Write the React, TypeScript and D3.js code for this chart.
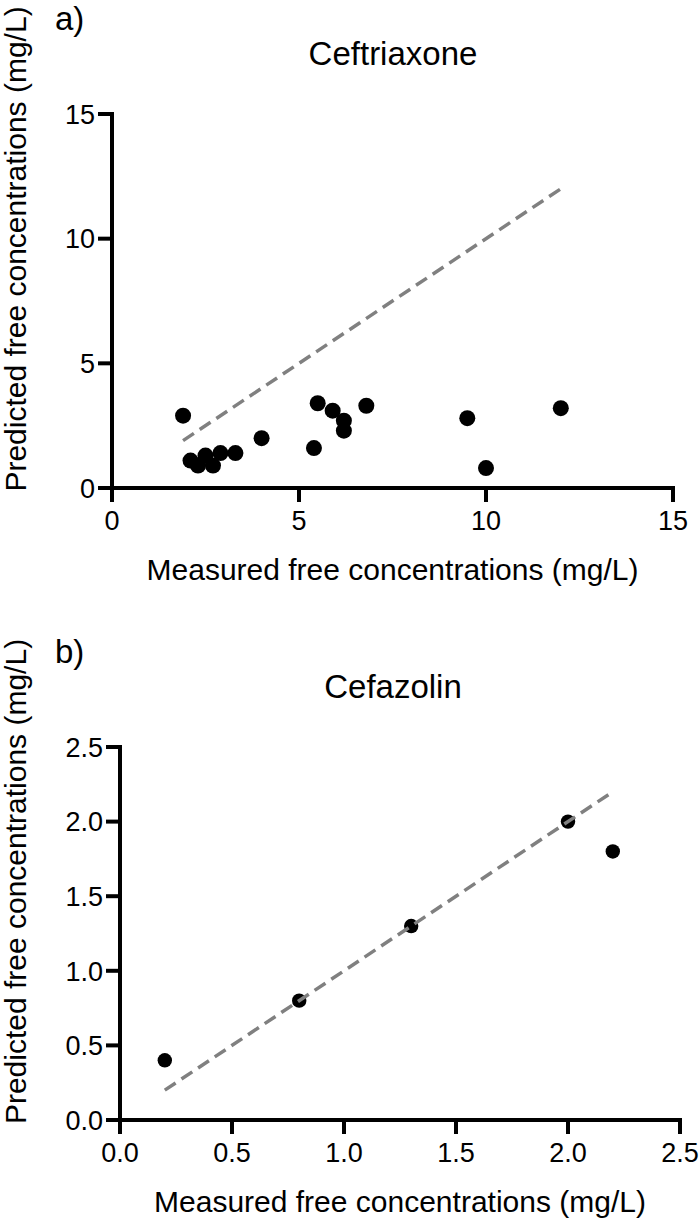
import React from "react";
import * as d3 from "d3";

// Panel a: Ceftriaxone
const ceftriaxoneMeasured = [1.9, 2.1, 2.3, 2.5, 2.7, 2.9, 3.3, 4.0, 5.4, 5.5, 5.9, 6.2, 6.2, 6.8, 9.5, 10.0, 12.0];
const ceftriaxonePredicted = [2.9, 1.1, 0.9, 1.3, 0.9, 1.4, 1.4, 2.0, 1.6, 3.4, 3.1, 2.7, 2.3, 3.3, 2.8, 0.8, 3.2];
const ceftriaxoneTicks = [0, 5, 10, 15];
const ceftriaxoneIdentity = [1.9, 12.0];

// Panel b: Cefazolin
const cefazolinMeasured = [0.2, 0.8, 1.3, 2.0, 2.2];
const cefazolinPredicted = [0.4, 0.8, 1.3, 2.0, 1.8];
const cefazolinTicks = [0, 0.5, 1.0, 1.5, 2.0, 2.5];
const cefazolinIdentity = [0.2, 2.2];

const xLabel = "Measured free concentrations (mg/L)";
const yLabel = "Predicted free concentrations (mg/L)";

const FONT = "'Liberation Sans', Arial, Helvetica, sans-serif";

type PanelProps = {
  letter: string;
  title: string;
  xs: number[];
  ys: number[];
  ticks: number[];
  identity: number[];
  domainMax: number;
  xRange: [number, number];
  yRange: [number, number];
  fmt: (v: number) => string;
  r: number;
  yShift: number;
};

function Panel(p: PanelProps) {
  const x = d3.scaleLinear().domain([0, p.domainMax]).range(p.xRange);
  const y = d3.scaleLinear().domain([0, p.domainMax]).range(p.yRange);
  const x0 = x(0);
  const y0 = y(0);
  const tickLen = 12;
  const sw = 4;
  const line = d3
    .line<number>()
    .x((d) => x(d))
    .y((d) => y(d));
  const yMid = (p.yRange[0] + p.yRange[1]) / 2 - 52;
  return (
    <g>
      <text x={55} y={p.yShift + 30} fontSize={33} fontFamily={FONT} fill="#000">
        {p.letter}
      </text>
      <text x={393} y={p.yShift + 65} fontSize={33} fontFamily={FONT} textAnchor="middle" fill="#000">
        {p.title}
      </text>
      {p.xs.map((v, i) => (
        <circle key={i} cx={x(v)} cy={y(p.ys[i])} r={p.r} fill="#000" />
      ))}
      <path
        d={line(p.identity) || ""}
        stroke="#808080"
        strokeWidth={3.5}
        strokeDasharray="13,7"
        fill="none"
      />
      <g stroke="#000" strokeWidth={sw} strokeLinecap="square">
        <line x1={x0} x2={x0} y1={y(p.domainMax)} y2={y0} />
        <line x1={x0} x2={x(p.domainMax)} y1={y0} y2={y0} />
        {p.ticks.map((t, i) => (
          <line key={"yt" + i} x1={x0 - tickLen} x2={x0} y1={y(t)} y2={y(t)} />
        ))}
        {p.ticks.map((t, i) => (
          <line key={"xt" + i} x1={x(t)} x2={x(t)} y1={y0} y2={y0 + tickLen} />
        ))}
      </g>
      {p.ticks.map((t, i) => (
        <text
          key={"yl" + i}
          x={x0 - 17}
          y={y(t)}
          dy="0.36em"
          textAnchor="end"
          fontSize={27}
          fontFamily={FONT}
          fill="#000"
        >
          {p.fmt(t)}
        </text>
      ))}
      {p.ticks.map((t, i) => (
        <text
          key={"xl" + i}
          x={x(t)}
          y={y0 + 42}
          textAnchor="middle"
          fontSize={27}
          fontFamily={FONT}
          fill="#000"
        >
          {p.fmt(t)}
        </text>
      ))}
      <text
        x={(p.xRange[0] + p.xRange[1]) / 2}
        y={y0 + 92}
        textAnchor="middle"
        fontSize={30}
        fontFamily={FONT}
        fill="#000"
      >
        {xLabel}
      </text>
      <text
        transform={`translate(26,${yMid}) rotate(-90)`}
        textAnchor="middle"
        fontSize={30}
        fontFamily={FONT}
        fill="#000"
      >
        {yLabel}
      </text>
    </g>
  );
}

export default function App() {
  return (
    <svg
      width={700}
      height={1218}
      style={{ position: "absolute", left: 0, top: 0, background: "#fff" }}
    >
      <rect width={700} height={1218} fill="#fff" />
      <Panel
        letter="a)"
        title="Ceftriaxone"
        xs={ceftriaxoneMeasured}
        ys={ceftriaxonePredicted}
        ticks={ceftriaxoneTicks}
        identity={ceftriaxoneIdentity}
        domainMax={15}
        xRange={[112, 673]}
        yRange={[488, 114]}
        fmt={d3.format("d")}
        r={8}
        yShift={0}
      />
      <Panel
        letter="b)"
        title="Cefazolin"
        xs={cefazolinMeasured}
        ys={cefazolinPredicted}
        ticks={cefazolinTicks}
        identity={cefazolinIdentity}
        domainMax={2.5}
        xRange={[120, 680]}
        yRange={[1120, 747]}
        fmt={d3.format(".1f")}
        r={7.2}
        yShift={633}
      />
    </svg>
  );
}
